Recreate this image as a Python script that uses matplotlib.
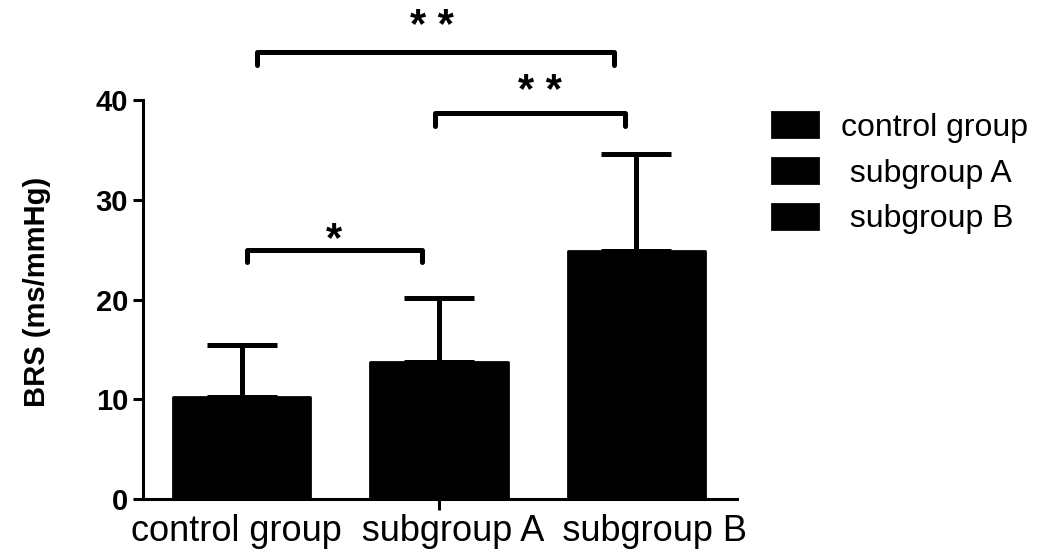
import matplotlib
matplotlib.use("Agg")
import matplotlib.pyplot as plt

plt.rcParams['font.family'] = ['Liberation Sans', 'DejaVu Sans']

# ---- data: one group, three series ----
series = ["control group", "subgroup A", "subgroup B"]
legend_labels = ["control group", " subgroup A", " subgroup B"]
means = [10.2, 13.7, 24.9]
sds = [5.2, 6.5, 9.7]
group_label = "  ".join(series)
yticks = [0, 10, 20, 30, 40]

# significance brackets (x in bar-slot units around the group centre)
bracket_x1 = [-0.97, -0.02, -0.92]
bracket_x2 = [-0.085, 0.94, 0.885]
bracket_y = [25.0, 38.7, 44.8]
bracket_labels = ["*", "* *", "* *"]
label_x = [-0.53, 0.51, -0.035]
label_y = [24.9, 39.7, 46.2]
leg_drop = 1.25

fig = plt.figure(figsize=(10.5, 5.56), dpi=100)
ax = fig.add_axes([0.136, 0.1025, 0.566, 0.7175])

offsets = [-1, 0, 1]
for off, m, sd, lab in zip(offsets, means, sds, legend_labels):
    ax.bar(off, m, width=0.695, color='black', edgecolor='black',
           linewidth=2, joinstyle='round', zorder=2, label=lab)
    ax.errorbar(off, m, yerr=[[0], [sd]], fmt='none', ecolor='black',
                elinewidth=3.6, capsize=25, capthick=3.6, zorder=1)
for line in ax.lines:
    line.set_solid_capstyle('round')
for coll in ax.collections:
    coll.set_capstyle('round')

for x1, x2, yb, lab, lx, ly in zip(bracket_x1, bracket_x2, bracket_y,
                                    bracket_labels, label_x, label_y):
    ax.plot([x1, x1, x2, x2], [yb - leg_drop, yb, yb, yb - leg_drop],
            color='black', lw=3.6, solid_capstyle='round',
            solid_joinstyle='round', clip_on=False, zorder=3)
    ax.text(lx, ly, lab, ha='center', va='baseline', fontsize=30,
            fontweight='bold', clip_on=False)

ax.set_xlim(-1.5, 1.51)
ax.set_ylim(0, 40)
ax.set_yticks(yticks)
ax.set_xticks([0])
ax.set_xticklabels([group_label], fontsize=26)
ax.tick_params(axis='x', length=8, width=2.2, pad=3)
ax.tick_params(axis='y', length=7, width=2.2, pad=3.5, labelsize=21)
for lab in ax.get_yticklabels():
    lab.set_fontweight('bold')

for s in ['top', 'right']:
    ax.spines[s].set_visible(False)
for s in ['left', 'bottom']:
    ax.spines[s].set_linewidth(2.2)

ax.set_ylabel("BRS (ms/mmHg)", fontsize=21, fontweight='bold')
ax.yaxis.set_label_coords(-0.155, 0.52)

fig.legend(loc='upper left', bbox_to_anchor=(772 / 1050, 1 - 112 / 556),
           frameon=False, fontsize=23, handlelength=1.45, handleheight=0.85,
           handletextpad=0.7, labelspacing=0.47, borderpad=0,
           borderaxespad=0)

fig.savefig("out.png", dpi=100)
